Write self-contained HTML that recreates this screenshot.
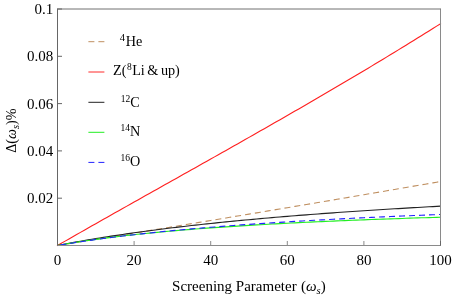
<!DOCTYPE html>
<html><head><meta charset="utf-8"><style>
html,body{margin:0;padding:0;background:#fff;}
svg{display:block;will-change:transform}
text{font-family:"Liberation Serif",serif;fill:#000}
</style></head><body>
<svg width="452" height="295" viewBox="0 0 452 295">
<rect width="452" height="295" fill="#fff"/>
<g fill="none" stroke-width="1.12">
<path d="M57.50,245.50 L61.33,244.88 L65.16,244.27 L68.99,243.65 L72.82,243.03 L76.65,242.41 L80.48,241.80 L84.31,241.18 L88.14,240.56 L91.97,239.94 L95.80,239.32 L99.63,238.70 L103.46,238.07 L107.29,237.45 L111.12,236.83 L114.95,236.21 L118.78,235.58 L122.61,234.96 L126.44,234.34 L130.27,233.71 L134.10,233.09 L137.93,232.46 L141.76,231.84 L145.59,231.21 L149.42,230.58 L153.25,229.96 L157.08,229.33 L160.91,228.70 L164.74,228.07 L168.57,227.44 L172.40,226.81 L176.23,226.18 L180.06,225.55 L183.89,224.92 L187.72,224.29 L191.55,223.66 L195.38,223.02 L199.21,222.39 L203.04,221.76 L206.87,221.12 L210.70,220.49 L214.53,219.85 L218.36,219.22 L222.19,218.58 L226.02,217.95 L229.85,217.31 L233.68,216.67 L237.51,216.03 L241.34,215.40 L245.17,214.76 L249.00,214.12 L252.83,213.48 L256.66,212.84 L260.49,212.20 L264.32,211.56 L268.15,210.91 L271.98,210.27 L275.81,209.63 L279.64,208.99 L283.47,208.34 L287.30,207.70 L291.13,207.05 L294.96,206.41 L298.79,205.76 L302.62,205.12 L306.45,204.47 L310.28,203.82 L314.11,203.18 L317.94,202.53 L321.77,201.88 L325.60,201.23 L329.43,200.58 L333.26,199.93 L337.09,199.28 L340.92,198.63 L344.75,197.98 L348.58,197.33 L352.41,196.67 L356.24,196.02 L360.07,195.37 L363.90,194.71 L367.73,194.06 L371.56,193.40 L375.39,192.75 L379.22,192.09 L383.05,191.44 L386.88,190.78 L390.71,190.12 L394.54,189.46 L398.37,188.81 L402.20,188.15 L406.03,187.49 L409.86,186.83 L413.69,186.17 L417.52,185.51 L421.35,184.84 L425.18,184.18 L429.01,183.52 L432.84,182.86 L436.67,182.19 L440.50,181.53" stroke="#bf8f60" stroke-dasharray="6 4"/>
<path d="M57.50,245.50 L61.33,243.31 L65.16,241.12 L68.99,238.93 L72.82,236.74 L76.65,234.56 L80.48,232.38 L84.31,230.20 L88.14,228.03 L91.97,225.85 L95.80,223.68 L99.63,221.51 L103.46,219.35 L107.29,217.18 L111.12,215.02 L114.95,212.86 L118.78,210.70 L122.61,208.54 L126.44,206.38 L130.27,204.23 L134.10,202.07 L137.93,199.92 L141.76,197.76 L145.59,195.61 L149.42,193.46 L153.25,191.31 L157.08,189.15 L160.91,187.00 L164.74,184.85 L168.57,182.70 L172.40,180.55 L176.23,178.40 L180.06,176.25 L183.89,174.10 L187.72,171.95 L191.55,169.80 L195.38,167.64 L199.21,165.49 L203.04,163.34 L206.87,161.18 L210.70,159.03 L214.53,156.87 L218.36,154.71 L222.19,152.55 L226.02,150.39 L229.85,148.23 L233.68,146.06 L237.51,143.90 L241.34,141.73 L245.17,139.56 L249.00,137.38 L252.83,135.21 L256.66,133.03 L260.49,130.85 L264.32,128.67 L268.15,126.49 L271.98,124.30 L275.81,122.11 L279.64,119.92 L283.47,117.72 L287.30,115.52 L291.13,113.32 L294.96,111.11 L298.79,108.90 L302.62,106.69 L306.45,104.47 L310.28,102.25 L314.11,100.03 L317.94,97.80 L321.77,95.57 L325.60,93.33 L329.43,91.09 L333.26,88.84 L337.09,86.59 L340.92,84.34 L344.75,82.08 L348.58,79.81 L352.41,77.55 L356.24,75.27 L360.07,72.99 L363.90,70.71 L367.73,68.42 L371.56,66.12 L375.39,63.82 L379.22,61.51 L383.05,59.20 L386.88,56.88 L390.71,54.55 L394.54,52.22 L398.37,49.89 L402.20,47.54 L406.03,45.19 L409.86,42.84 L413.69,40.47 L417.52,38.10 L421.35,35.73 L425.18,33.34 L429.01,30.95 L432.84,28.55 L436.67,26.15 L440.50,23.73" stroke="#ff2020" stroke-linecap="square"/>
<path d="M57.50,245.50 L61.33,244.76 L65.16,244.02 L68.99,243.31 L72.82,242.60 L76.65,241.91 L80.48,241.23 L84.31,240.56 L88.14,239.90 L91.97,239.25 L95.80,238.61 L99.63,237.99 L103.46,237.37 L107.29,236.77 L111.12,236.17 L114.95,235.58 L118.78,235.01 L122.61,234.44 L126.44,233.88 L130.27,233.33 L134.10,232.79 L137.93,232.25 L141.76,231.73 L145.59,231.21 L149.42,230.70 L153.25,230.20 L157.08,229.70 L160.91,229.22 L164.74,228.74 L168.57,228.26 L172.40,227.80 L176.23,227.34 L180.06,226.88 L183.89,226.44 L187.72,225.99 L191.55,225.56 L195.38,225.13 L199.21,224.71 L203.04,224.29 L206.87,223.88 L210.70,223.47 L214.53,223.07 L218.36,222.67 L222.19,222.28 L226.02,221.90 L229.85,221.52 L233.68,221.14 L237.51,220.77 L241.34,220.41 L245.17,220.04 L249.00,219.69 L252.83,219.33 L256.66,218.99 L260.49,218.64 L264.32,218.30 L268.15,217.97 L271.98,217.64 L275.81,217.31 L279.64,216.99 L283.47,216.67 L287.30,216.35 L291.13,216.04 L294.96,215.73 L298.79,215.42 L302.62,215.12 L306.45,214.82 L310.28,214.53 L314.11,214.24 L317.94,213.95 L321.77,213.66 L325.60,213.38 L329.43,213.10 L333.26,212.83 L337.09,212.56 L340.92,212.29 L344.75,212.02 L348.58,211.76 L352.41,211.50 L356.24,211.24 L360.07,210.98 L363.90,210.73 L367.73,210.48 L371.56,210.23 L375.39,209.99 L379.22,209.74 L383.05,209.50 L386.88,209.27 L390.71,209.03 L394.54,208.80 L398.37,208.57 L402.20,208.34 L406.03,208.11 L409.86,207.89 L413.69,207.67 L417.52,207.45 L421.35,207.23 L425.18,207.02 L429.01,206.81 L432.84,206.60 L436.67,206.39 L440.50,206.18" stroke="#222"/>
<path d="M57.50,245.50 L61.33,244.81 L65.16,244.14 L68.99,243.49 L72.82,242.86 L76.65,242.24 L80.48,241.65 L84.31,241.06 L88.14,240.50 L91.97,239.94 L95.80,239.41 L99.63,238.88 L103.46,238.37 L107.29,237.87 L111.12,237.39 L114.95,236.91 L118.78,236.45 L122.61,235.99 L126.44,235.55 L130.27,235.12 L134.10,234.70 L137.93,234.29 L141.76,233.88 L145.59,233.49 L149.42,233.10 L153.25,232.73 L157.08,232.36 L160.91,231.99 L164.74,231.64 L168.57,231.29 L172.40,230.95 L176.23,230.62 L180.06,230.29 L183.89,229.97 L187.72,229.66 L191.55,229.35 L195.38,229.05 L199.21,228.76 L203.04,228.46 L206.87,228.18 L210.70,227.90 L214.53,227.63 L218.36,227.36 L222.19,227.09 L226.02,226.83 L229.85,226.58 L233.68,226.33 L237.51,226.08 L241.34,225.84 L245.17,225.60 L249.00,225.37 L252.83,225.14 L256.66,224.91 L260.49,224.69 L264.32,224.47 L268.15,224.25 L271.98,224.04 L275.81,223.83 L279.64,223.63 L283.47,223.43 L287.30,223.23 L291.13,223.03 L294.96,222.84 L298.79,222.65 L302.62,222.46 L306.45,222.28 L310.28,222.10 L314.11,221.92 L317.94,221.74 L321.77,221.57 L325.60,221.40 L329.43,221.23 L333.26,221.07 L337.09,220.90 L340.92,220.74 L344.75,220.58 L348.58,220.42 L352.41,220.27 L356.24,220.12 L360.07,219.97 L363.90,219.82 L367.73,219.67 L371.56,219.53 L375.39,219.39 L379.22,219.24 L383.05,219.11 L386.88,218.97 L390.71,218.83 L394.54,218.70 L398.37,218.57 L402.20,218.44 L406.03,218.31 L409.86,218.18 L413.69,218.06 L417.52,217.93 L421.35,217.81 L425.18,217.69 L429.01,217.57 L432.84,217.45 L436.67,217.34 L440.50,217.22" stroke="#22ee22"/>
<path d="M57.50,245.50 L61.33,244.84 L65.16,244.20 L68.99,243.58 L72.82,242.96 L76.65,242.36 L80.48,241.77 L84.31,241.20 L88.14,240.64 L91.97,240.08 L95.80,239.54 L99.63,239.01 L103.46,238.50 L107.29,237.99 L111.12,237.49 L114.95,237.00 L118.78,236.52 L122.61,236.05 L126.44,235.59 L130.27,235.14 L134.10,234.69 L137.93,234.26 L141.76,233.83 L145.59,233.41 L149.42,233.00 L153.25,232.59 L157.08,232.19 L160.91,231.80 L164.74,231.42 L168.57,231.04 L172.40,230.67 L176.23,230.30 L180.06,229.94 L183.89,229.59 L187.72,229.24 L191.55,228.90 L195.38,228.56 L199.21,228.23 L203.04,227.90 L206.87,227.58 L210.70,227.27 L214.53,226.96 L218.36,226.65 L222.19,226.35 L226.02,226.05 L229.85,225.76 L233.68,225.47 L237.51,225.19 L241.34,224.91 L245.17,224.64 L249.00,224.36 L252.83,224.10 L256.66,223.83 L260.49,223.57 L264.32,223.32 L268.15,223.06 L271.98,222.82 L275.81,222.57 L279.64,222.33 L283.47,222.09 L287.30,221.85 L291.13,221.62 L294.96,221.39 L298.79,221.16 L302.62,220.94 L306.45,220.72 L310.28,220.50 L314.11,220.29 L317.94,220.08 L321.77,219.87 L325.60,219.66 L329.43,219.46 L333.26,219.25 L337.09,219.06 L340.92,218.86 L344.75,218.66 L348.58,218.47 L352.41,218.28 L356.24,218.10 L360.07,217.91 L363.90,217.73 L367.73,217.55 L371.56,217.37 L375.39,217.19 L379.22,217.02 L383.05,216.85 L386.88,216.68 L390.71,216.51 L394.54,216.34 L398.37,216.18 L402.20,216.01 L406.03,215.85 L409.86,215.69 L413.69,215.54 L417.52,215.38 L421.35,215.23 L425.18,215.08 L429.01,214.93 L432.84,214.78 L436.67,214.63 L440.50,214.48" stroke="#2222ff" stroke-dasharray="6 4" stroke-dashoffset="7"/>
</g>
<g stroke="#666" stroke-width="1" fill="none">
<line x1="57.5" y1="8.5" x2="57.5" y2="246.0" stroke="#666"/>
<line x1="440.5" y1="8.5" x2="440.5" y2="246.0" stroke="#8a8a8a"/>
<line x1="57.5" y1="9.0" x2="440.5" y2="9.0" stroke="#707070"/>
<line x1="57.5" y1="245.5" x2="440.5" y2="245.5" stroke="#8a8a8a"/>
<line x1="57.5" y1="9.0" x2="62.0" y2="9.0"/>
<line x1="440.5" y1="245.5" x2="440.5" y2="241.0"/>
<line x1="134.1" y1="245.5" x2="134.1" y2="241.0" stroke="#8a8a8a"/>
<line x1="210.7" y1="245.5" x2="210.7" y2="241.0" stroke="#8a8a8a"/>
<line x1="287.3" y1="245.5" x2="287.3" y2="241.0" stroke="#8a8a8a"/>
<line x1="363.9" y1="245.5" x2="363.9" y2="241.0" stroke="#8a8a8a"/>
<line x1="57.5" y1="198.2" x2="62.0" y2="198.2"/>
<line x1="57.5" y1="150.9" x2="62.0" y2="150.9"/>
<line x1="57.5" y1="103.6" x2="62.0" y2="103.6"/>
<line x1="57.5" y1="56.3" x2="62.0" y2="56.3"/>
</g>
<g font-size="15">
<text x="57.5" y="264.5" text-anchor="middle">0</text>
<text x="134.1" y="264.5" text-anchor="middle">20</text>
<text x="210.7" y="264.5" text-anchor="middle">40</text>
<text x="287.3" y="264.5" text-anchor="middle">60</text>
<text x="363.9" y="264.5" text-anchor="middle">80</text>
<text x="440.5" y="264.5" text-anchor="middle">100</text>
<text x="53.2" y="203.1" text-anchor="end">0.02</text>
<text x="53.2" y="155.8" text-anchor="end">0.04</text>
<text x="53.2" y="108.5" text-anchor="end">0.06</text>
<text x="53.2" y="61.2" text-anchor="end">0.08</text>
<text x="53.2" y="13.9" text-anchor="end">0.1</text>
</g>
<text x="172.1" y="290.5" font-size="15">Screening Parameter <tspan dx="0.6">(</tspan><tspan font-style="italic">ω</tspan><tspan font-style="italic" font-size="10.5" dy="3.5">s</tspan><tspan dy="-3.5">)</tspan></text>
<text transform="translate(16.4,152.8) rotate(-90)" font-size="14.15" fill="#262626">Δ(<tspan font-style="italic">ω</tspan><tspan font-style="italic" font-size="10.5" dy="3">s</tspan><tspan dy="-3">)%</tspan></text>
<g stroke-width="1" fill="none">
<line x1="88.4" y1="41.7" x2="104.4" y2="41.7" stroke="#bf8f60" stroke-dasharray="6 4"/>
<line x1="88.4" y1="72" x2="104.4" y2="72" stroke="#ff2a2a"/>
<line x1="88.4" y1="102.3" x2="104.4" y2="102.3" stroke="#222"/>
<line x1="88.4" y1="132.3" x2="104.4" y2="132.3" stroke="#22ee22"/>
<line x1="88.4" y1="162.4" x2="104.4" y2="162.4" stroke="#2222ff" stroke-dasharray="6 4"/>
</g>
<g font-size="14.2">
<text x="119.8" y="45.6"><tspan font-size="10.5" dy="-5">4</tspan><tspan dy="5" dx="0.6">He</tspan></text>
<text x="113.1" y="75.4" word-spacing="-1">Z(<tspan font-size="9.5" dy="-5" dx="0.6">8</tspan><tspan dy="5" dx="0.3">Li &amp; up)</tspan></text>
<text x="120.7" y="106.6"><tspan font-size="9.5" dy="-5">12</tspan><tspan dy="5">C</tspan></text>
<text x="120.6" y="136.3"><tspan font-size="9.5" dy="-5">14</tspan><tspan dy="5">N</tspan></text>
<text x="120.6" y="166.1"><tspan font-size="9.5" dy="-5">16</tspan><tspan dy="5">O</tspan></text>
</g>
</svg>
</body></html>
